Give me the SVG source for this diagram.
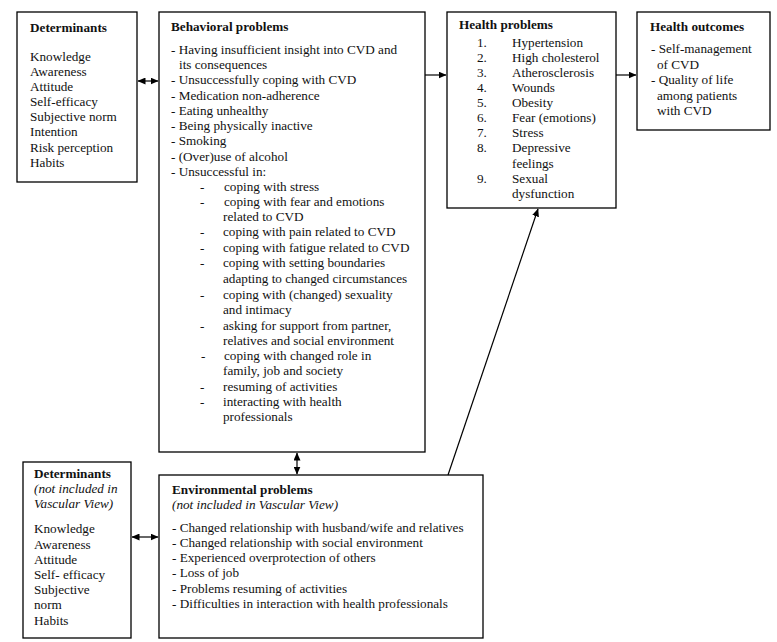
<svg xmlns="http://www.w3.org/2000/svg" width="777" height="642" viewBox="0 0 777 642" font-family="'Liberation Serif', 'Times New Roman', serif">
<style>
  .box{fill:#fff;stroke:#000;stroke-width:1.3}
  text{font-family:"Liberation Serif","Times New Roman",serif;font-size:13.2px;fill:#111}
  .b{font-weight:bold}
  .i{font-style:italic}
  .c{stroke:#000;stroke-width:1.2;fill:none}
</style>
<defs>
  <marker id="ah" markerWidth="8" markerHeight="7" refX="7.5" refY="3.5" orient="auto" markerUnits="userSpaceOnUse">
    <path d="M0,0 L8,3.5 L0,7 Z" fill="#000"/>
  </marker>
  <marker id="as" markerWidth="8" markerHeight="7" refX="0.5" refY="3.5" orient="auto" markerUnits="userSpaceOnUse">
    <path d="M8,0 L0,3.5 L8,7 Z" fill="#000"/>
  </marker>
</defs>
<rect width="777" height="642" fill="#fff"/>

<g id="determinants-top">
  <rect class="box" x="17" y="12" width="120" height="170"/>
  <text class="b" x="30" y="32">Determinants</text>
  <text x="30" y="61">Knowledge</text>
  <text x="30" y="76">Awareness</text>
  <text x="30" y="91">Attitude</text>
  <text x="30" y="106">Self-efficacy</text>
  <text x="30" y="121">Subjective norm</text>
  <text x="30" y="136">Intention</text>
  <text x="30" y="152">Risk perception</text>
  <text x="30" y="167">Habits</text>
</g>

<g id="behavioral">
  <rect class="box" x="159" y="12" width="266" height="440"/>
  <text class="b" x="171" y="31">Behavioral problems</text>
  <text x="171" y="54">- Having insufficient insight into CVD and</text>
  <text x="179" y="69">its consequences</text>
  <text x="171" y="84">- Unsuccessfully coping with CVD</text>
  <text x="171" y="100">- Medication non-adherence</text>
  <text x="171" y="115">- Eating unhealthy</text>
  <text x="171" y="130">- Being physically inactive</text>
  <text x="171" y="145">- Smoking</text>
  <text x="171" y="161">- (Over)use of alcohol</text>
  <text x="171" y="176">- Unsuccessful in:</text>
  <text x="200" y="191">-</text><text x="224" y="191">coping with stress</text>
  <text x="200" y="206">-</text><text x="224" y="206">coping with fear and emotions</text>
  <text x="223" y="221">related to CVD</text>
  <text x="200" y="236">-</text><text x="223" y="236">coping with pain related to CVD</text>
  <text x="200" y="252">-</text><text x="223" y="252">coping with fatigue related to CVD</text>
  <text x="200" y="267">-</text><text x="223" y="267">coping with setting boundaries</text>
  <text x="223" y="283">adapting to changed circumstances</text>
  <text x="200" y="299">-</text><text x="223" y="299">coping with (changed) sexuality</text>
  <text x="223" y="314">and intimacy</text>
  <text x="200" y="330">-</text><text x="223" y="330">asking for support from partner,</text>
  <text x="223" y="345">relatives and social environment</text>
  <text x="201" y="360">-</text><text x="224" y="360">coping with changed role in</text>
  <text x="223" y="375">family, job and society</text>
  <text x="200" y="391">-</text><text x="223" y="391">resuming of activities</text>
  <text x="200" y="406">-</text><text x="223" y="406">interacting with health</text>
  <text x="223" y="421">professionals</text>
</g>

<g id="health-problems">
  <rect class="box" x="447" y="12" width="169" height="196"/>
  <text class="b" x="459" y="29">Health problems</text>
  <text x="477" y="47">1.</text><text x="512" y="47">Hypertension</text>
  <text x="477" y="62">2.</text><text x="512" y="62">High cholesterol</text>
  <text x="477" y="77">3.</text><text x="512" y="77">Atherosclerosis</text>
  <text x="477" y="92">4.</text><text x="512" y="92">Wounds</text>
  <text x="477" y="107">5.</text><text x="512" y="107">Obesity</text>
  <text x="477" y="122">6.</text><text x="512" y="122">Fear (emotions)</text>
  <text x="477" y="137">7.</text><text x="512" y="137">Stress</text>
  <text x="477" y="152">8.</text><text x="512" y="152">Depressive</text>
  <text x="512" y="168">feelings</text>
  <text x="477" y="183">9.</text><text x="512" y="183">Sexual</text>
  <text x="512" y="198">dysfunction</text>
</g>

<g id="health-outcomes">
  <rect class="box" x="637" y="12" width="133" height="118"/>
  <text class="b" x="650" y="31">Health outcomes</text>
  <text x="651" y="53">- Self-management</text>
  <text x="657" y="69">of CVD</text>
  <text x="651" y="84">- Quality of life</text>
  <text x="657" y="100">among patients</text>
  <text x="657" y="115">with CVD</text>
</g>

<g id="determinants-bottom">
  <rect class="box" x="23" y="462" width="108" height="176"/>
  <text class="b" x="34" y="478">Determinants</text>
  <text class="i" x="34" y="493">(not included in</text>
  <text class="i" x="34" y="508">Vascular View)</text>
  <text x="34" y="533">Knowledge</text>
  <text x="34" y="549">Awareness</text>
  <text x="34" y="564">Attitude</text>
  <text x="34" y="579">Self- efficacy</text>
  <text x="34" y="594">Subjective</text>
  <text x="34" y="609">norm</text>
  <text x="34" y="625">Habits</text>
</g>

<g id="environmental">
  <rect class="box" x="159" y="475" width="324" height="163"/>
  <text class="b" x="172" y="494">Environmental problems</text>
  <text class="i" x="172" y="509">(not included in Vascular View)</text>
  <text x="172" y="532">- Changed relationship with husband/wife and relatives</text>
  <text x="172" y="547">- Changed relationship with social environment</text>
  <text x="172" y="562">- Experienced overprotection of others</text>
  <text x="172" y="577">- Loss of job</text>
  <text x="172" y="593">- Problems resuming of activities</text>
  <text x="172" y="608">- Difficulties in interaction with health professionals</text>
</g>

<g id="connectors">
  <line class="c" x1="138" y1="81" x2="158" y2="81" marker-start="url(#as)" marker-end="url(#ah)"/>
  <line class="c" x1="425" y1="75" x2="446" y2="75" marker-end="url(#ah)"/>
  <line class="c" x1="616" y1="75" x2="636" y2="75" marker-end="url(#ah)"/>
  <line class="c" x1="297" y1="453" x2="297" y2="474" marker-start="url(#as)" marker-end="url(#ah)"/>
  <line class="c" x1="132" y1="537" x2="158" y2="537" marker-start="url(#as)" marker-end="url(#ah)"/>
  <line class="c" x1="448" y1="475" x2="538" y2="209" marker-end="url(#ah)"/>
</g>
</svg>
